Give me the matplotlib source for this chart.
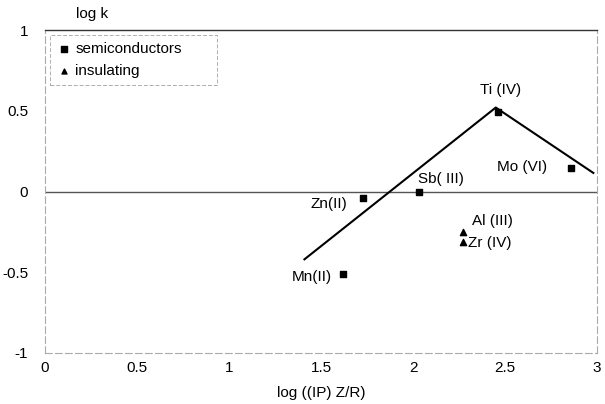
import matplotlib.pyplot as plt
import numpy as np

plt.rcParams['font.family'] = ['Liberation Sans', 'DejaVu Sans']
plt.rcParams['font.size'] = 11

# semiconducting oxides
semi_names = ['Mn(II)', 'Zn(II)', 'Sb( III)', 'Ti (IV)', 'Mo (VI)']
semi_x = [1.62, 1.73, 2.03, 2.46, 2.86]
semi_y = [-0.51, -0.04, 0.00, 0.49, 0.145]

# insulating oxides
ins_names = ['Al (III)', 'Zr (IV)']
ins_x = [2.27, 2.27]
ins_y = [-0.25, -0.31]

# volcano trend line
line_x = [1.41, 2.45, 2.98]
line_y = [-0.42, 0.52, 0.115]

fig = plt.figure(figsize=(6.05, 4.04), dpi=100)
ax = fig.add_axes([45 / 605, 1 - 353 / 404, 552 / 605, 323 / 404])

ax.axhline(0, color='#555555', lw=1.0, zorder=1)
ax.plot(line_x, line_y, color='black', lw=1.5, zorder=2)
ax.scatter(semi_x, semi_y, marker='s', s=25, color='black', zorder=3, label='semiconductors')
ax.scatter(ins_x, ins_y, marker='^', s=20, color='black', zorder=3, label='insulating')

# point labels: (dx, dy, alignment)
offsets = {
    'Mn(II)': (-0.06, -0.02, 'right'),
    'Zn(II)': (-0.09, -0.04, 'right'),
    'Sb( III)': (0.12, 0.08, 'center'),
    'Ti (IV)': (0.015, 0.14, 'center'),
    'Mo (VI)': (-0.13, 0.005, 'right'),
}
for n, x, y in zip(semi_names, semi_x, semi_y):
    dx, dy, ha = offsets[n]
    ax.text(x + dx, y + dy, n, ha=ha, va='center')
ax.text(ins_x[0] + 0.05, ins_y[0] + 0.07, ins_names[0], ha='left', va='center')
ax.text(ins_x[1] + 0.03, ins_y[1] - 0.01, ins_names[1], ha='left', va='center')

ax.set_xlim(0, 3)
ax.set_ylim(-1, 1)
ax.set_xticks([0, 0.5, 1, 1.5, 2, 2.5, 3])
ax.set_xticklabels(['0', '0.5', '1', '1.5', '2', '2.5', '3'])
ax.set_yticks([-1, -0.5, 0, 0.5, 1])
ax.set_yticklabels(['-1', '-0.5', '0', '0.5', '1'])
ax.tick_params(axis='x', length=0, pad=6)
ax.tick_params(axis='y', length=0, pad=12)

ax.spines['top'].set_color('#333333')
ax.spines['top'].set_linewidth(1.0)
for s in ['left', 'bottom', 'right']:
    ax.spines[s].set_color('#aaaaaa')
    ax.spines[s].set_linewidth(0.8)
    ax.spines[s].set_linestyle((0, (6, 3)))

ax.set_xlabel('log ((IP) Z/R)', labelpad=8)
fig.text(76 / 605, 1 - 14 / 404, 'log k', ha='left', va='center')

leg = ax.legend(loc='upper left', bbox_to_anchor=(0.009, 0.985, 0.3025, 0.0),
                mode='expand', borderaxespad=0, frameon=True, fancybox=False,
                handletextpad=0.2, handlelength=1.0,
                borderpad=0.45, labelspacing=0.55, markerscale=0.8)
leg.get_frame().set_edgecolor('#999999')
leg.get_frame().set_linewidth(0.7)
leg.get_frame().set_linestyle((0, (4, 2)))

fig.savefig('out.png', dpi=100)
